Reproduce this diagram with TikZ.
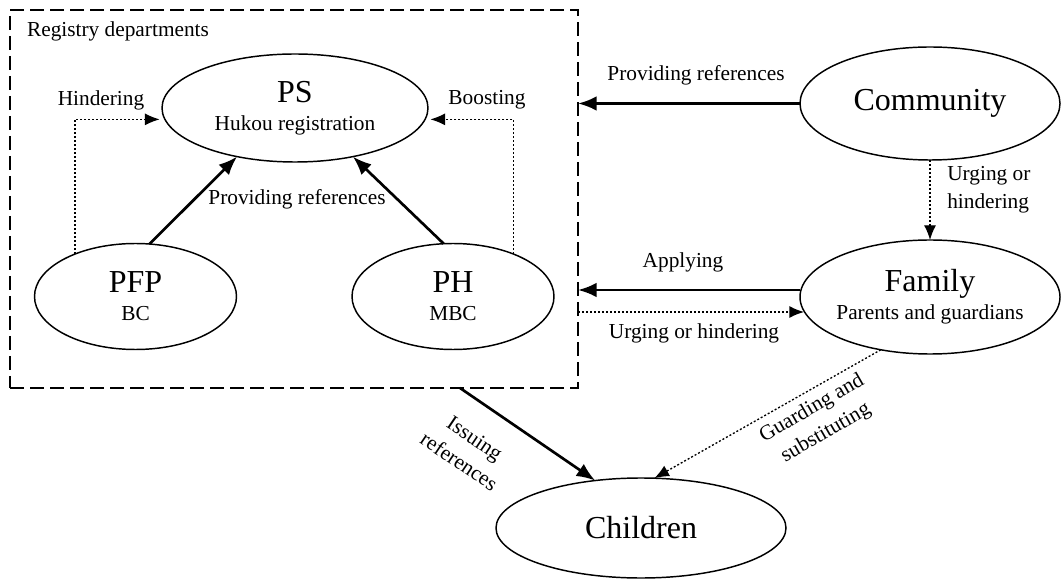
\documentclass[tikz,border=0pt]{standalone}
\usepackage{fontspec}
\setmainfont{Liberation Serif}
\usetikzlibrary{arrows.meta,calc,shapes.geometric}
\newcommand{\bigf}{\fontsize{24}{26}\selectfont}
\begin{document}
\begin{tikzpicture}[x=0.75pt,y=-0.75pt,
  every node/.style={font=\fontsize{16}{21}\selectfont},
  ell/.style={draw,ellipse,line width=1.1pt,inner sep=0pt,outer sep=0pt,align=center},
  lab/.style={inner sep=0pt},
  solidarr/.style={line width=2pt,-{Latex[length=14pt,width=11pt]}},
  dotarr/.style={line width=1pt,dash pattern=on 1.5pt off 1.5pt,-{Latex[length=11pt,width=9pt]}},
  regbox/.style={draw,line width=1.1pt,dash pattern=on 10.5pt off 4.5pt,minimum width=426pt,minimum height=283.5pt,inner sep=0pt,outer sep=0pt}]
\useasboundingbox (0,0) rectangle (1062,580);

\node[regbox] (reg) at (294,199) {};
\node[lab] (regl) at (118,31) {Registry departments};

\node[ell,minimum width=199.5pt,minimum height=81pt] (ps) at (295,108) {{\bigf PS}\\Hukou registration};
\node[ell,minimum width=151.5pt,minimum height=79.5pt] (pfp) at (135.5,296.5) {{\bigf PFP}\\BC};
\node[ell,minimum width=151.5pt,minimum height=79.5pt] (ph) at (453,296.5) {{\bigf PH}\\MBC};
\node[ell,minimum width=195pt,minimum height=84.75pt] (comm) at (930,103.5) {\bigf Community};
\node[ell,minimum width=195pt,minimum height=85.5pt,inner xsep=-3pt] (fam) at (930,297) {{\bigf Family}\\Parents and guardians};
\node[ell,minimum width=217.5pt,minimum height=75pt] (chil) at (641,528) {\bigf Children};

\draw[solidarr] (pfp.75) -- (ps.220);
\draw[solidarr] (ph.100) -- (ps.320);
\draw[dotarr,shorten >=4pt] (pfp.145) |- (ps.185);
\draw[dotarr,shorten >=4pt] (ph.35) |- (ps.-5);
\node[lab] (hind) at (101,100) {Hindering};
\node[lab] (boost) at (487,100) {Boosting};
\node[lab] (provA) at (297,199) {Providing references};

\draw[solidarr] (comm.west) -- (comm.west -| reg.east);
\node[lab] (provB) at (696,75) {Providing references};
\draw[dotarr] (comm.south) -- (fam.north);
\node[lab,align=left,anchor=west] (urg1) at (947,190) {Urging or\\hindering};
\draw[solidarr] ($(fam.west)+(0,-7)$) -- ($(fam.west -| reg.east)+(0,-7)$);
\node[lab] (appl) at (683,262) {Applying};
\draw[dotarr] ($(reg.east |- fam.west)+(0,15)$) -- ($(fam.west)+(4,15)$);
\node[lab] (urg2) at (694,333) {Urging or hindering};

\draw[solidarr] ($(reg.south)+(166,0)$) -- (chil.134);
\node[lab,align=center,rotate=-34] (iss) at (467,450) {Issuing\\references};
\draw[dotarr] (fam.227) -- (chil.75);
\node[lab,align=center,rotate=30] (guard) at (819,421) {Guarding and\\substituting};
\end{tikzpicture}
\end{document}
